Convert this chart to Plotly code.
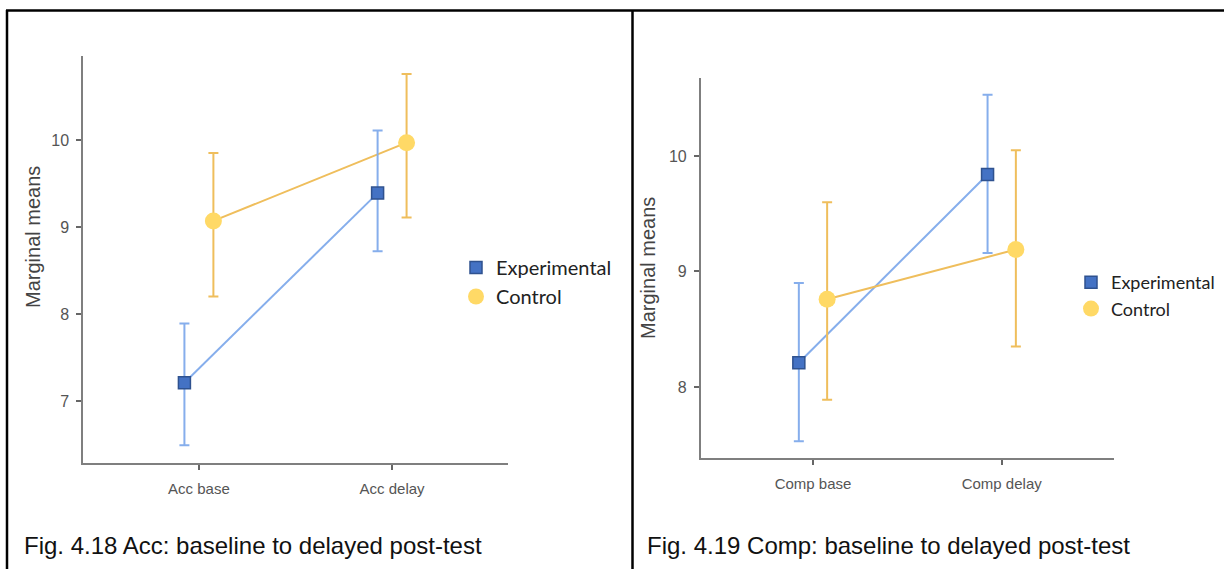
import plotly.graph_objects as go

W, H = 1224, 569

# ---------------- data ----------------
acc_categories = ["Acc base", "Acc delay"]
acc_exp_mean = [7.21, 9.39]
acc_exp_upper = [7.89, 10.11]
acc_exp_lower = [6.49, 8.72]
acc_ctl_mean = [9.07, 9.97]
acc_ctl_upper = [9.85, 10.76]
acc_ctl_lower = [8.20, 9.11]

comp_categories = ["Comp base", "Comp delay"]
comp_exp_mean = [8.21, 9.84]
comp_exp_upper = [8.90, 10.53]
comp_exp_lower = [7.53, 9.16]
comp_ctl_mean = [8.76, 9.19]
comp_ctl_upper = [9.60, 10.05]
comp_ctl_lower = [7.89, 8.35]

acc_yticks = [7, 8, 9, 10]
comp_yticks = [8, 9, 10]

series_names = ["Experimental", "Control"]
captions = ["Fig. 4.18 Acc: baseline to delayed post-test",
            "Fig. 4.19 Comp: baseline to delayed post-test"]
y_title = "Marginal means"

# ---------------- styles ----------------
EXP_FILL = "#4472C4"
EXP_EDGE = "#2F528F"
EXP_LINE = "#86AEEC"
CTL_FILL = "#FFD966"
CTL_LINE = "#EFBE5C"
AXIS_COL = "#7F7F7F"
TICK_FONT_COL = "#555555"
DODGE = 0.075


def px_x(p):
    return p / W


def px_y(p):
    return 1 - p / H


fig = go.Figure()


def add_panel(cats, e_mean, e_up, e_lo, c_mean, c_up, c_lo, xa, ya, legend):
    n = len(cats)
    xe = [i - DODGE for i in range(n)]
    xc = [i + DODGE for i in range(n)]
    fig.add_trace(go.Scatter(x=xe, y=e_mean, mode="lines", xaxis=xa, yaxis=ya,
                             line=dict(color=EXP_LINE, width=2), showlegend=False,
                             hoverinfo="skip"))
    fig.add_trace(go.Scatter(x=xc, y=c_mean, mode="lines", xaxis=xa, yaxis=ya,
                             line=dict(color=CTL_LINE, width=2), showlegend=False,
                             hoverinfo="skip"))
    fig.add_trace(go.Scatter(
        x=xe, y=e_mean, mode="markers", xaxis=xa, yaxis=ya, name=series_names[0],
        legend=legend,
        marker=dict(symbol="square", size=12, color=EXP_FILL,
                    line=dict(color=EXP_EDGE, width=1.5)),
        error_y=dict(type="data", symmetric=False,
                     array=[u - m for u, m in zip(e_up, e_mean)],
                     arrayminus=[m - l for m, l in zip(e_mean, e_lo)],
                     color=EXP_LINE, thickness=2, width=5)))
    fig.add_trace(go.Scatter(
        x=xc, y=c_mean, mode="markers", xaxis=xa, yaxis=ya, name=series_names[1],
        legend=legend,
        marker=dict(symbol="circle", size=17, color=CTL_FILL,
                    line=dict(color=CTL_FILL, width=0)),
        error_y=dict(type="data", symmetric=False,
                     array=[u - m for u, m in zip(c_up, c_mean)],
                     arrayminus=[m - l for m, l in zip(c_mean, c_lo)],
                     color=CTL_LINE, thickness=2, width=5)))


add_panel(acc_categories, acc_exp_mean, acc_exp_upper, acc_exp_lower,
          acc_ctl_mean, acc_ctl_upper, acc_ctl_lower, "x", "y", "legend")
add_panel(comp_categories, comp_exp_mean, comp_exp_upper, comp_exp_lower,
          comp_ctl_mean, comp_ctl_upper, comp_ctl_lower, "x2", "y2", "legend2")

common_x = dict(showline=True, linecolor=AXIS_COL, linewidth=1.5, ticks="outside",
                ticklen=5, tickwidth=1.5, tickcolor="#666666", showgrid=False,
                zeroline=False, tickfont=dict(family="Liberation Sans", size=15,
                                              color=TICK_FONT_COL),
                ticklabelstandoff=6, fixedrange=True)
common_y = dict(showline=True, linecolor=AXIS_COL, linewidth=1.5, ticks="outside",
                ticklen=5, tickwidth=1.5, tickcolor="#666666", showgrid=False,
                zeroline=False, tickfont=dict(family="Liberation Sans", size=16,
                                              color=TICK_FONT_COL),
                ticklabelstandoff=4, fixedrange=True)

fig.update_layout(
    width=W, height=H, autosize=False,
    margin=dict(l=0, r=0, t=0, b=0),
    paper_bgcolor="white", plot_bgcolor="white",
    xaxis=dict(common_x, domain=[px_x(83), px_x(508)], range=[-0.6, 1.6],
               tickvals=list(range(len(acc_categories))), ticktext=acc_categories,
               anchor="y"),
    yaxis=dict(common_y, domain=[px_y(463), px_y(56)], range=[6.287, 10.966],
               tickvals=acc_yticks, anchor="x"),
    xaxis2=dict(common_x, domain=[px_x(700.7), px_x(1114)], range=[-0.595, 1.595],
                tickvals=list(range(len(comp_categories))), ticktext=comp_categories,
                anchor="y2"),
    yaxis2=dict(common_y, domain=[px_y(458), px_y(78)], range=[7.385, 10.675],
                tickvals=comp_yticks, anchor="x2"),
    legend=dict(x=px_x(456), y=px_y(282), xanchor="left", yanchor="middle",
                font=dict(family="Lato", size=20, color="#222222"),
                bgcolor="rgba(0,0,0,0)", borderwidth=0, tracegroupgap=0),
    legend2=dict(x=px_x(1071), y=px_y(295.5), xanchor="left", yanchor="middle",
                 font=dict(family="Lato", size=18, color="#222222"),
                 bgcolor="rgba(0,0,0,0)", borderwidth=0, tracegroupgap=0),
    showlegend=True,
)

# y-axis titles
fig.add_annotation(x=px_x(33), y=px_y(237), xref="paper", yref="paper",
                   text=y_title, textangle=-90, showarrow=False,
                   font=dict(family="Liberation Sans", size=20, color="#444444"),
                   xanchor="center", yanchor="middle")
fig.add_annotation(x=px_x(648), y=px_y(268), xref="paper", yref="paper",
                   text=y_title, textangle=-90, showarrow=False,
                   font=dict(family="Liberation Sans", size=20, color="#444444"),
                   xanchor="center", yanchor="middle")

# captions
fig.add_annotation(x=px_x(22), y=px_y(545), xref="paper", yref="paper",
                   text=captions[0], showarrow=False, xanchor="left", yanchor="middle",
                   font=dict(family="Liberation Sans", size=24, color="#111111"))
fig.add_annotation(x=px_x(645), y=px_y(545), xref="paper", yref="paper",
                   text=captions[1], showarrow=False, xanchor="left", yanchor="middle",
                   font=dict(family="Liberation Sans", size=24, color="#111111"))

# table-like frame
frame = dict(color="black", width=2.5)
fig.add_shape(type="line", xref="paper", yref="paper", x0=px_x(6), x1=1,
              y0=px_y(10.5), y1=px_y(10.5), line=frame)
fig.add_shape(type="line", xref="paper", yref="paper", x0=px_x(7), x1=px_x(7),
              y0=px_y(10), y1=0, line=frame)
fig.add_shape(type="line", xref="paper", yref="paper", x0=px_x(632.5), x1=px_x(632.5),
              y0=px_y(10), y1=0, line=frame)

fig.write_html("out.html")
